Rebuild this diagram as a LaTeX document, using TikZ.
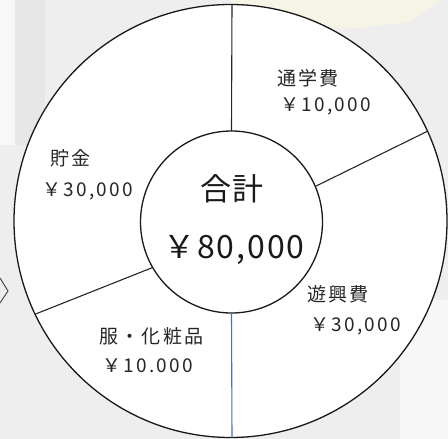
\documentclass[tikz,border=0pt]{standalone}
\usepackage{fontspec}
\setmainfont{Noto Sans CJK JP}[LetterSpace=12]
\newfontfamily\bigfont{Noto Sans CJK JP}[LetterSpace=6]
\begin{document}
\begin{tikzpicture}[x=1pt,y=-1pt,
  ring/.style={draw=black!90,line width=1.3pt,fill=white},
  divider/.style={draw=black!85,line width=1.1pt},
  bluediv/.style={draw=lineblue,line width=1.1pt},
  lbl/.style={anchor=base west,inner sep=0pt,font=\fontsize{19}{22}\selectfont,text=black!85},
  big/.style={anchor=base,inner sep=0pt,text=black!90}]
\definecolor{lineblue}{RGB}{72,112,178}
\definecolor{bggray}{RGB}{238,238,238}
\definecolor{paleyel}{RGB}{246,244,228}
\useasboundingbox (0,0) rectangle (448,439);
% background
\fill[bggray] (0,0) rectangle (448,439);
\fill[white!60!bggray] (0,0) rectangle (15,145);
\fill[black!3!bggray] (15,0) rectangle (45,145);
\fill[paleyel] (230,0) -- (250,25) -- (300,30) -- (360,28) -- (410,22) -- (440,0) -- cycle;
\fill[white!55!bggray] (400,300) rectangle (448,439);
\coordinate (chA) at (0,278);
\coordinate (chB) at (8,291);
\coordinate (chC) at (0,303);
\draw[black!75,line width=0.9pt] (chA) -- (chB) -- (chC);
% circles
\coordinate (co) at (230.5,221);
\coordinate (ci) at (231.5,222);
\draw[ring] (co) circle[radius=216.5];
\draw[ring] (ci) circle[radius=91];
% divider end points
\path (ci) ++(0,-91) coordinate (iN);
\path (co) ++(1.5,-216.5) coordinate (oN);
\path (ci) ++(0,91) coordinate (iS);
\path (co) ++(1.5,216.5) coordinate (oS);
\path (ci) ++(-23:91) coordinate (iR);
\path (co) ++(-24.5:216.5) coordinate (oR);
\path (ci) ++(-210:91) coordinate (iL);
\path (co) ++(-205.5:216.5) coordinate (oL);
% dividers
\draw[divider] (iN) -- (oN);
\draw[divider] (iR) -- (oR);
\draw[divider] (iL) -- (oL);
\draw[bluediv] (iS) -- (oS);
% labels
\node[lbl] (t1) at (277,85) {通学費};
\node[lbl] (t1v) at (280,111.5) {￥10,000};
\node[lbl] (t2) at (50,165) {貯金};
\node[lbl] (t2v) at (42,196.5) {￥30,000};
\node[lbl] (t3) at (307,301) {遊興費};
\node[lbl] (t3v) at (310,331.5) {￥30,000};
\node[lbl] (t4) at (99,343) {服・化粧品};
\node[lbl] (t4v) at (102,372.5) {￥10.000};
\node[big,font=\bigfont\fontsize{31}{36}\selectfont] (tc) at (232,200) {合計};
\node[big,font=\bigfont\fontsize{32}{36}\selectfont] (tv) at (234,258.5) {￥80,000};
\end{tikzpicture}
\end{document}
